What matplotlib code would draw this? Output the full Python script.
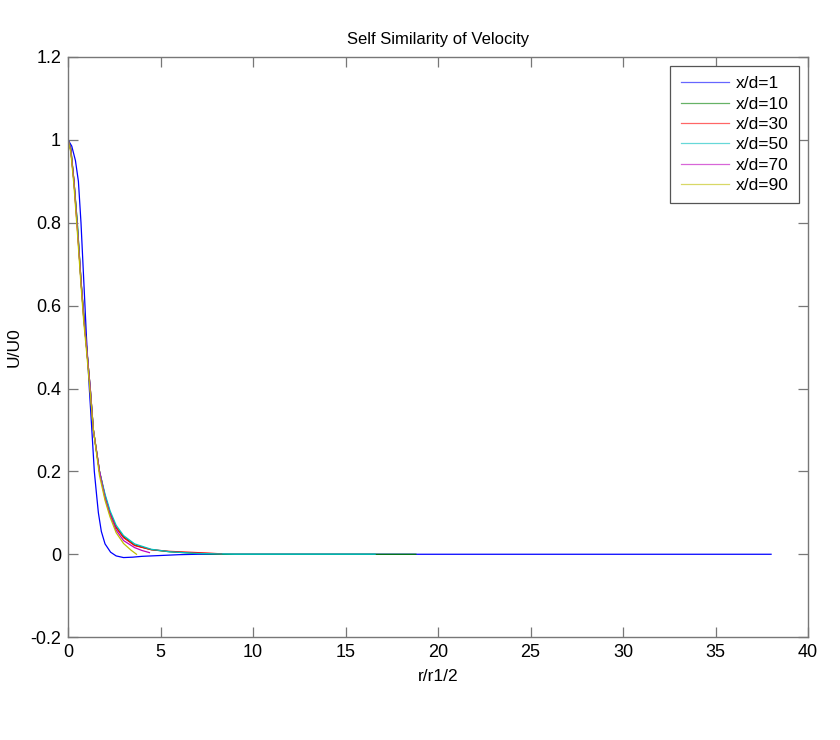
import matplotlib.pyplot as plt
from matplotlib.ticker import FormatStrFormatter

plt.rcParams['font.family'] = ['Liberation Sans', 'DejaVu Sans']

labels = ['x/d=1', 'x/d=10', 'x/d=30', 'x/d=50', 'x/d=70', 'x/d=90']
colors = ['#0000ff', '#008000', '#ff0000', '#00bfbf', '#bf00bf', '#bfbf00']

# x/d=1: flatter core, small undershoot, long zero tail
r_1 = [0, 0.2, 0.4, 0.56, 0.7, 0.85, 1.0, 1.15, 1.3, 1.42, 1.55, 1.64, 1.8, 2.0,
       2.3, 2.6, 3.0, 3.5, 4.0, 5.0, 6.0, 7.0, 10, 20, 30, 38]
u_1 = [1, 0.985, 0.95, 0.9, 0.8, 0.66, 0.52, 0.4, 0.29, 0.2, 0.14, 0.1, 0.055, 0.025,
       0.005, -0.004, -0.008, -0.007, -0.005, -0.003, -0.001, 0, 0, 0, 0, 0]

r_10 = [0, 0.15, 0.32, 0.5, 0.7, 0.85, 1.0, 1.2, 1.37, 1.7, 2.0, 2.27, 2.6, 3.0,
        3.6, 4.5, 5.5, 7.0, 8.3, 12, 18.8]
u_10 = [1, 0.98, 0.9, 0.8, 0.66, 0.58, 0.5, 0.4, 0.3, 0.2, 0.14, 0.1, 0.065, 0.042,
        0.022, 0.011, 0.006, 0.002, 0, 0, 0]

r_30 = [0, 0.15, 0.32, 0.5, 0.7, 0.85, 1.0, 1.2, 1.37, 1.7, 2.0, 2.27, 2.6, 3.0,
        3.6, 4.5, 5.5, 6.5, 7.5, 8.3]
u_30 = [1, 0.975, 0.9, 0.79, 0.66, 0.57, 0.5, 0.4, 0.3, 0.2, 0.14, 0.1, 0.064, 0.04,
        0.021, 0.011, 0.007, 0.005, 0.003, 0.001]

r_50 = [0, 0.15, 0.32, 0.5, 0.7, 0.85, 1.0, 1.2, 1.37, 1.7, 2.0, 2.27, 2.6, 3.0,
        3.6, 4.5, 5.5, 7.0, 9, 16.6]
u_50 = [1, 0.975, 0.9, 0.8, 0.66, 0.57, 0.5, 0.4, 0.3, 0.2, 0.145, 0.105, 0.07, 0.045,
        0.025, 0.012, 0.006, 0.002, 0, 0]

r_70 = [0, 0.15, 0.32, 0.5, 0.7, 0.85, 1.0, 1.2, 1.37, 1.7, 2.0, 2.27, 2.6, 3.0,
        3.6, 4.0, 4.4]
u_70 = [1, 0.975, 0.9, 0.79, 0.66, 0.57, 0.5, 0.4, 0.3, 0.2, 0.135, 0.095, 0.058, 0.033,
        0.016, 0.009, 0.004]

r_90 = [0, 0.15, 0.32, 0.5, 0.7, 0.85, 1.0, 1.2, 1.37, 1.7, 2.0, 2.27, 2.6, 3.0,
        3.4, 3.7]
u_90 = [1, 0.97, 0.89, 0.78, 0.65, 0.56, 0.49, 0.39, 0.3, 0.19, 0.13, 0.09, 0.052, 0.026,
        0.01, 0.0]

series = [(r_1, u_1), (r_10, u_10), (r_30, u_30), (r_50, u_50), (r_70, u_70), (r_90, u_90)]

fig = plt.figure(figsize=(8.4, 7.4), dpi=100)
ax = fig.add_axes([0.081, 0.139, 0.881, 0.784])

for (r, u), c, lab in zip(series, colors, labels):
    ax.plot(r, u, color=c, lw=0.9, label=lab)

ax.set_xlim(0, 40)
ax.set_ylim(-0.2, 1.2)
ax.set_xticks(range(0, 41, 5))
ax.set_yticks([-0.2, 0, 0.2, 0.4, 0.6, 0.8, 1.0, 1.2])
ax.yaxis.set_major_formatter(FormatStrFormatter('%g'))
ax.tick_params(direction='in', length=7, width=0.9, top=True, right=True,
               labelsize=13, color='#777777', pad=5)
for s in ax.spines.values():
    s.set_color('#777777')
    s.set_linewidth(1.0)

ax.set_title('Self Similarity of Velocity', fontsize=12, pad=9)
ax.set_xlabel('r/r1/2', fontsize=12.5, labelpad=6)
ax.set_ylabel('U/U0', fontsize=12.5, labelpad=6)

leg = ax.legend(loc='upper right', fontsize=12.5, fancybox=False, framealpha=1,
                edgecolor='#555555', borderaxespad=0.5, handlelength=2.8,
                handletextpad=0.4, labelspacing=0.3, borderpad=0.6)
leg.get_frame().set_linewidth(0.9)
for h in leg.get_lines():
    h.set_alpha(0.6)

fig.savefig('out.png', dpi=100)
